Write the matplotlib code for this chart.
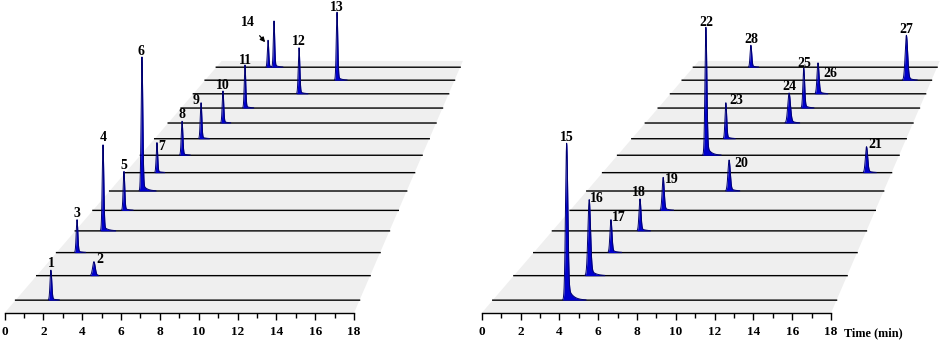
import numpy as np
import matplotlib
matplotlib.use('Agg')
from matplotlib import pyplot as plt
from matplotlib.patches import Polygon
from matplotlib.ticker import FixedLocator

plt.rcParams['font.family'] = ['Liberation Serif', 'DejaVu Serif']
plt.rcParams['font.weight'] = 'bold'

# ---- data: one chromatogram per trace, trace 0 is the front one ----
# left panel (compounds 1-14), the last entry is the unlabelled peak beside 14
left_labels = ['1', '2', '3', '4', '5', '6', '7', '8', '9', '10', '11', '12', '13', '14', '']
left_trace = [0, 1, 2, 3, 4, 5, 6, 7, 8, 9, 10, 11, 12, 13, 13]
left_rt = [1.85, 3.09, 1.14, 1.59, 1.83, 1.96, 1.96, 2.66, 3.04, 3.68, 4.40, 7.45, 9.52, 3.82, 4.26]
left_height = [30.5, 14.7, 35.6, 95.7, 44.6, 157.7, 36.3, 42.2, 45.8, 41.8, 57.5, 63.0, 95.3, 38.7, 65.9]
left_sigma = [0.045, 0.07, 0.045, 0.045, 0.045, 0.05, 0.045, 0.05, 0.05, 0.05, 0.05, 0.055, 0.055, 0.05, 0.05]
left_tail = [0.06] * 15

# right panel (compounds 15-28)
right_labels = ['15', '16', '17', '18', '19', '20', '21', '22', '23', '24', '25', '26', '27', '28']
right_trace = list(range(14))
right_rt = [3.87, 4.07, 4.30, 5.02, 5.49, 8.63, 16.44, 5.65, 6.17, 9.67, 10.03, 10.41, 16.19, 4.25]
right_height = [159.5, 79.7, 35.6, 35.6, 37.8, 36.5, 31.4, 158.8, 45.8, 39.2, 53.5, 42.4, 63.0, 31.5]
right_sigma = [0.06, 0.07, 0.055, 0.055, 0.06, 0.07, 0.07, 0.06, 0.055, 0.09, 0.06, 0.07, 0.09, 0.06]
right_tail = [0.12, 0.12, 0.1, 0.1, 0.1, 0.12, 0.12, 0.1, 0.08, 0.15, 0.1, 0.12, 0.12, 0.1]

# label offsets from the peak top (pixels)
left_offsets = [(0, 7), (6, 2), (0, 6), (0, 7), (0, 6), (-1, 5), (5, -4), (0, 7), (-5, 2),
                (0, 5), (0, 5), (0, 6), (0, 5), (-20, 18), (0, 0)]
right_offsets = [(0, 6), (8, 1), (8, 2), (-1, 6), (9, -2), (12, -4), (9, 2), (0, 5), (10, 2),
                 (0, 6), (1, 5), (12, -11), (0, 6), (0, 6)]

n_traces = 14
t_grid = np.linspace(0, 18, 3601)

# oblique/perspective view of the stack
VX, VY, C = 36.08, 813.0, 0.0321


def project(t, z, h=0.0):
    s = 1.0 / (1.0 + C * z)
    return VX + (np.asarray(t) - VX) * s, VY * (1 - s) + h * s


def peak_shape(t, t0, h, sig, tail, tau=0.25):
    g = np.exp(-0.5 * ((t - t0) / sig) ** 2)
    e = np.where(t > t0, np.exp(-np.clip(t - t0, 0, None) / tau), g)
    return h * (g + tail * e) / (1 + tail)


def draw_panel(ax, labels, trace, rt, height, sigma, tail, offsets, xlim):
    ax.set_xlim(xlim)
    ax.set_ylim(-27, 313)
    ax.patch.set_visible(False)

    corners = [project(0, 0), project(18, 0), project(18, 14), project(0, 14)]
    ax.add_patch(Polygon(corners, closed=True, fc='#efefef', ec='none', zorder=0))

    z_order = 1
    for k in range(n_traces - 1, -1, -1):
        z = k + 0.5
        sig_total = np.zeros_like(t_grid)
        for i in range(len(rt)):
            if trace[i] == k:
                sig_total += peak_shape(t_grid, rt[i], height[i], sigma[i], tail[i])
        x, base = project(t_grid, z)
        _, y = project(t_grid, z, sig_total)
        ax.plot(x, np.full_like(x, base), color='black', lw=1.0, zorder=z_order)
        mask = sig_total > 0.3
        ax.fill_between(x, base, y, where=mask, color='#0000cc', lw=0, zorder=z_order + 0.1)
        ax.plot(x, np.where(mask, y, np.nan), color='#000070', lw=0.7, zorder=z_order + 0.2)
        z_order += 1

    for i in range(len(rt)):
        if not labels[i]:
            continue
        px, py = project(rt[i], trace[i] + 0.5, height[i])
        dx, dy = offsets[i]
        if labels[i] == '14':
            ax.annotate(labels[i], xy=(px - 0.15, py - 2), xytext=(dx + 3, dy + 2),
                        textcoords='offset pixels', ha='center', va='center',
                        fontsize=10, fontweight='bold', zorder=100,
                        arrowprops=dict(arrowstyle='-|>', color='black', lw=0.9,
                                        mutation_scale=7, shrinkA=4, shrinkB=0))
        else:
            ax.annotate(labels[i], xy=(px, py), xytext=(dx, dy), textcoords='offset pixels',
                        ha='center', va='center', fontsize=10, fontweight='bold', zorder=100)

    for side in ['left', 'right', 'top']:
        ax.spines[side].set_visible(False)
    ax.spines['bottom'].set_position(('data', 0))
    ax.spines['bottom'].set_bounds(0, 18)
    ax.spines['bottom'].set_linewidth(1.0)
    ax.xaxis.set_major_locator(FixedLocator(range(0, 19, 2)))
    ax.xaxis.set_minor_locator(FixedLocator(range(1, 18, 2)))
    ax.tick_params(axis='x', which='major', direction='out', length=4.7, width=1.0, pad=4.5, labelsize=9.5)
    ax.tick_params(axis='x', which='minor', direction='out', length=3.6, width=1.0)
    ax.set_yticks([])


fig = plt.figure(figsize=(9.41, 3.40), dpi=100)
ax1 = fig.add_axes([0, 0, 470 / 941, 1])
ax2 = fig.add_axes([470 / 941, 0, 471 / 941, 1])

draw_panel(ax1, left_labels, left_trace, left_rt, left_height, left_sigma, left_tail,
           left_offsets, (-4.5 / 19.417, 465.5 / 19.417))
draw_panel(ax2, right_labels, right_trace, right_rt, right_height, right_sigma, right_tail,
           right_offsets, (-11.7 / 19.406, 459.3 / 19.406))

ax2.text(20.2, -20, 'Time (min)', ha='center', va='center', fontsize=8.8, fontweight='bold')

fig.savefig('out.png', dpi=100)
